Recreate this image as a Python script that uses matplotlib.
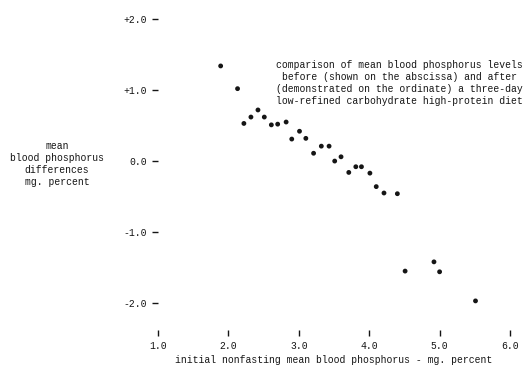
import matplotlib
matplotlib.use("Agg")
import matplotlib.pyplot as plt

x_vals = [1.89, 2.13, 2.22, 2.32, 2.42, 2.51, 2.61, 2.70, 2.82, 2.90, 3.01, 3.10,
          3.21, 3.32, 3.43, 3.51, 3.60, 3.71, 3.81, 3.89, 4.01, 4.10, 4.21, 4.40,
          4.51, 4.92, 5.00, 5.51]
y_vals = [1.34, 1.02, 0.53, 0.62, 0.72, 0.62, 0.51, 0.52, 0.55, 0.31, 0.42, 0.32,
          0.11, 0.21, 0.21, 0.00, 0.06, -0.16, -0.08, -0.08, -0.17, -0.36, -0.45, -0.46,
          -1.55, -1.42, -1.56, -1.97]

x_ticks = [1.0, 2.0, 3.0, 4.0, 5.0, 6.0]
x_tick_labels = ["1.0", "2.0", "3.0", "4.0", "5.0", "6.0"]
y_ticks = [2.0, 1.0, 0.0, -1.0, -2.0]
y_tick_labels = ["+2.0", "+1.0", "0.0", "-1.0", "-2.0"]

x_label = "initial nonfasting mean blood phosphorus - mg. percent"
y_label = "mean\nblood phosphorus\ndifferences\nmg. percent"
note = ("comparison of mean blood phosphorus levels\n"
        "before (shown on the abscissa) and after\n"
        "(demonstrated on the ordinate) a three-day\n"
        "low-refined carbohydrate high-protein diet")

plt.rcParams['font.family'] = ['Liberation Mono', 'DejaVu Sans Mono']
ink = '#151515'

fig = plt.figure(figsize=(5.27, 3.69), dpi=100)
ax = fig.add_axes([158/527, 1 - 330/369, (510 - 158)/527, (330 - 12)/369])

ax.scatter(x_vals, y_vals, s=12, color=ink, edgecolors='none', zorder=3)

ax.set_xlim(1.0, 6.0)
ax.set_ylim(-2.38, 2.1)
for s in ax.spines.values():
    s.set_visible(False)

ax.set_xticks(x_ticks)
ax.set_xticklabels(x_tick_labels, fontsize=7, color=ink)
ax.set_yticks(y_ticks)
ax.set_yticklabels(y_tick_labels, fontsize=7, color=ink)
ax.tick_params(axis='x', direction='out', length=4, width=1, color=ink, pad=4)
ax.tick_params(axis='y', direction='out', length=4, width=1, color=ink, pad=4)

ax.set_xlabel(x_label, fontsize=7, color=ink, labelpad=3)

fig.text(57/527, 1 - 164/369, y_label, fontsize=7, color=ink,
         ha='center', va='center', linespacing=1.25)
fig.text(399/527, 1 - 83/369, note, fontsize=7, color=ink,
         ha='center', va='center', linespacing=1.25)

fig.savefig("out.png", dpi=100, facecolor='white')
